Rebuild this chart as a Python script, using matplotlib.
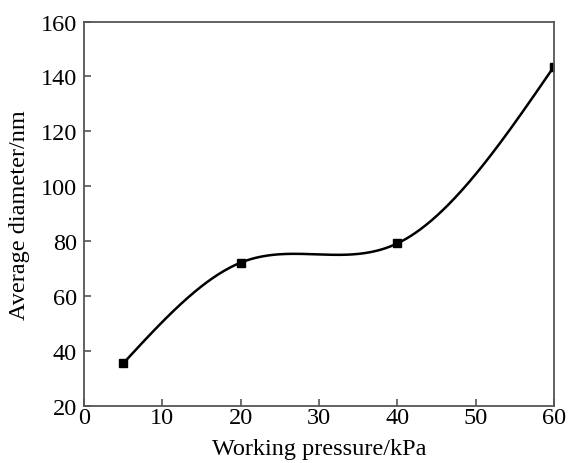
import numpy as np
import matplotlib
matplotlib.use("Agg")
import matplotlib.pyplot as plt

plt.rcParams["font.family"] = ["Liberation Serif", "DejaVu Serif"]

# Data
pressure = [5, 20, 40, 60]          # kPa
diameter = [35.5, 72.2, 79.2, 143.6]  # nm


def natural_spline(x, y, xs):
    # natural cubic spline, used only to draw the smooth connecting line
    x = np.asarray(x, float)
    y = np.asarray(y, float)
    n = len(x)
    h = np.diff(x)
    A = np.zeros((n, n))
    b = np.zeros(n)
    A[0, 0] = A[-1, -1] = 1
    for i in range(1, n - 1):
        A[i, i - 1] = h[i - 1]
        A[i, i] = 2 * (h[i - 1] + h[i])
        A[i, i + 1] = h[i]
        b[i] = 3 * ((y[i + 1] - y[i]) / h[i] - (y[i] - y[i - 1]) / h[i - 1])
    c = np.linalg.solve(A, b)
    out = np.empty_like(xs)
    for k, xv in enumerate(xs):
        i = min(max(np.searchsorted(x, xv) - 1, 0), n - 2)
        dx = xv - x[i]
        bi = (y[i + 1] - y[i]) / h[i] - h[i] * (2 * c[i] + c[i + 1]) / 3
        di = (c[i + 1] - c[i]) / (3 * h[i])
        out[k] = y[i] + bi * dx + c[i] * dx ** 2 + di * dx ** 3
    return out


xs = np.linspace(pressure[0], pressure[-1], 300)
ys = natural_spline(pressure, diameter, xs)

fig = plt.figure(figsize=(5.69, 4.64), dpi=100)
ax = fig.add_axes([0.1476, 0.1228, 0.826, 0.8287])
ax.plot(xs, ys, color="black", lw=1.8)
ax.plot(pressure, diameter, "s", color="black", ms=5.2)

ax.set_xlim(0, 60)
ax.set_ylim(20, 160)
ax.set_xticks(range(0, 61, 10))
ax.set_yticks(range(20, 161, 20))
ax.tick_params(direction="in", length=5, width=1.2, color="#555555",
               labelsize=17.5, top=False, right=False)
ax.tick_params(axis="y", pad=5)
ax.tick_params(axis="x", pad=1)
for s in ax.spines.values():
    s.set_color("#555555")
    s.set_linewidth(1.3)

ax.set_xlabel("Working pressure/kPa", fontsize=17.5, labelpad=7)
ax.set_ylabel("Average diameter/nm", fontsize=17.5, labelpad=8)

fig.savefig("out.png", dpi=100)
